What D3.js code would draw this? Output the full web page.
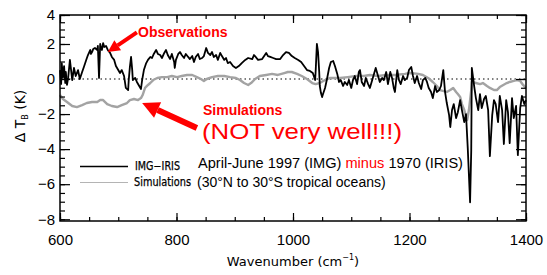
<!DOCTYPE html>
<html lang="en">
<head>
<meta charset="UTF-8">
<title>IMG minus IRIS</title>
<script src="https://d3js.org/d3.v7.min.js"></script>
<style>
  body { margin: 0; background: #fff; }
  svg { display: block; font-family: "Liberation Sans", Arial, sans-serif; }
  .tick text { font-size: 15px; fill: #000; }
  .tick line { stroke: #000; stroke-width: 1.2; }
</style>
</head>
<body>
<svg width="547" height="275" id="grafico"></svg>
<script>
// observed spectrum difference (IMG 1997 minus IRIS 1970), wavenumber in cm-1, dT in K
var obsWn = [600,602,603,605,607,609,610,612,614,617,621,624,627,631,634,638,641,645,648,652,653,655,657,660,664,665,667,669,670,672,674,676,679,682,686,689,693,696,700,703,706,710,713,717,718,720,722,724,725,729,732,736,739,741,744,748,751,755,758,761,765,768,772,775,779,782,785,789,792,796,797,799,803,806,809,813,816,820,823,827,830,833,837,840,844,847,851,854,858,861,864,868,871,875,878,882,885,888,892,897,902,907,912,918,923,930,933,936,940,947,954,957,961,966,971,978,983,988,993,998,1003,1009,1014,1019,1024,1029,1034,1038,1039,1041,1043,1045,1046,1048,1050,1051,1055,1058,1062,1065,1069,1072,1076,1079,1082,1086,1089,1093,1096,1100,1103,1106,1110,1113,1115,1118,1122,1125,1129,1132,1136,1139,1142,1146,1149,1153,1156,1160,1163,1167,1170,1173,1175,1179,1182,1185,1189,1192,1196,1199,1203,1206,1209,1213,1216,1220,1223,1227,1230,1233,1237,1240,1244,1247,1251,1254,1258,1261,1264,1268,1270,1273,1276,1280,1283,1287,1290,1294,1297,1300,1304,1306,1307,1311,1314,1318,1321,1324,1328,1331,1335,1338,1342,1345,1348,1352,1355,1359,1362,1366,1369,1372,1376,1379,1383,1386,1390,1393,1397,1400];
var obsDT = [0.51,-0.29,0.91,0.06,0.74,-0.23,0.40,-0.34,0.06,1.09,-0.06,0.63,0.17,0.51,0.00,0.40,0.69,1.09,1.37,1.66,1.43,1.54,1.71,1.77,1.66,1.89,0.06,2.00,1.83,1.66,2.06,1.83,1.89,1.66,1.49,1.26,1.09,0.74,0.51,0.34,0.51,0.17,-0.51,-0.63,-0.06,0.69,1.26,0.51,-0.06,0.06,-0.17,-0.40,-0.57,-0.06,0.51,0.91,1.09,1.26,1.20,1.43,1.66,1.43,1.37,1.20,1.49,1.66,1.37,1.14,1.43,0.97,0.63,1.09,1.43,1.54,1.37,1.20,1.43,1.26,1.14,1.31,0.97,1.26,1.43,1.14,1.20,1.31,1.77,1.49,1.37,1.54,1.26,1.37,1.09,1.49,1.31,1.09,1.20,0.91,0.97,0.74,0.63,0.74,0.91,1.09,1.20,1.14,1.37,1.26,1.09,1.14,1.49,1.31,1.26,1.20,1.14,1.14,1.37,1.54,1.49,1.31,1.20,1.09,0.97,0.74,0.51,0.46,0.34,-0.06,0.51,2.00,1.54,0.40,-0.40,-0.80,-1.03,-0.91,-0.51,-0.06,0.63,0.97,1.03,0.74,0.29,-0.17,-0.06,-0.40,-0.17,-0.34,-0.06,-0.51,-0.06,0.17,-0.29,0.40,0.51,-0.17,-0.40,0.06,-0.29,-0.51,-0.06,0.29,0.63,0.17,-0.17,0.06,-0.06,0.40,-0.29,0.40,0.06,-0.51,-0.74,0.51,-0.06,-0.29,0.17,-0.06,0.06,0.51,0.69,0.17,-0.23,0.17,-0.23,-0.57,-0.06,0.06,-0.17,-0.51,-0.74,-1.09,-0.40,-0.74,-0.63,-0.40,0.51,-0.74,-1.37,-2.06,-2.74,-1.77,-1.43,-2.23,-1.89,-1.20,-1.77,-2.46,-2.00,-3.94,-7.03,-4.06,0.63,-0.40,-1.09,-1.77,-0.86,-1.66,-1.14,-0.97,-1.77,-4.40,-2.06,-1.20,-1.43,-2.46,-0.97,-1.77,-3.71,-1.20,-1.89,-3.66,-1.09,-2.23,-1.54,-4.34,-1.66,-0.97,-1.43,-1.20];

// simulated difference
var simWn = [600,605,612,621,629,638,646,655,664,669,674,681,689,698,706,715,720,727,734,739,742,746,751,755,760,767,775,784,792,801,809,818,827,835,842,847,852,861,871,882,892,902,909,916,923,928,935,943,954,964,974,985,991,998,1007,1015,1024,1033,1039,1046,1055,1064,1072,1081,1094,1108,1122,1132,1146,1160,1175,1192,1201,1215,1223,1232,1240,1247,1252,1259,1264,1270,1275,1280,1283,1287,1290,1294,1297,1299,1302,1306,1307,1314,1321,1326,1333,1338,1345,1350,1355,1361,1367,1372,1379,1384,1390,1395,1400];
var simDT = [-0.91,-1.14,-1.31,-1.54,-1.60,-1.49,-1.37,-1.31,-1.31,-1.20,-1.20,-1.43,-1.54,-1.60,-1.49,-1.37,-1.20,-1.14,-1.20,-1.09,-0.91,-0.51,-0.34,-0.23,-0.06,0.06,0.11,0.11,0.17,0.11,0.17,0.23,0.23,0.11,0.00,-0.11,0.00,0.11,0.17,0.17,0.11,0.06,-0.06,-0.23,-0.34,-0.23,0.00,0.17,0.23,0.29,0.23,0.34,0.40,0.40,0.29,0.17,0.00,-0.23,-0.29,-0.23,-0.06,0.06,0.06,0.06,0.11,0.17,0.17,0.23,0.17,0.23,0.23,0.29,0.34,0.29,0.23,0.06,-0.17,-0.40,-0.63,-0.69,-0.74,-0.63,-0.51,-0.74,-0.86,-1.03,-1.43,-1.77,-2.11,-2.34,-1.77,-0.63,-0.17,-0.23,-0.29,-0.23,-0.40,-0.51,-0.63,-0.63,-0.46,-0.34,-0.23,-0.17,-0.11,-0.06,-0.11,-0.34,-0.51];

var xTicks = [600, 800, 1000, 1200, 1400];
var yTicks = [-8, -6, -4, -2, 0, 2, 4];

var svg = d3.select("svg");

var x = d3.scaleLinear().domain([600, 1400]).range([60, 526]);
var y = d3.scaleLinear().domain([-8.1, 0, 2, 4]).range([221, 79, 44, 15]);

svg.append("rect").attr("width", 547).attr("height", 275).attr("fill", "#fff");

// zero line
svg.append("line")
    .attr("x1", x(600)).attr("x2", x(1400))
    .attr("y1", y(0)).attr("y2", y(0))
    .attr("stroke", "#000").attr("stroke-width", 1.2)
    .attr("stroke-dasharray", "1.5,3");

var line = d3.line()
    .x(function (d) { return x(d[0]); })
    .y(function (d) { return y(d[1]); });

svg.append("path")
    .datum(d3.zip(simWn, simDT))
    .attr("d", line)
    .attr("fill", "none").attr("stroke", "#a3a3a3").attr("stroke-width", 2.4)
    .attr("stroke-linejoin", "round");

svg.append("path")
    .datum(d3.zip(obsWn, obsDT))
    .attr("d", line)
    .attr("fill", "none").attr("stroke", "#000").attr("stroke-width", 1.8)
    .attr("stroke-linejoin", "round");

// axes, ticks pointing inward on every side
function noDomain(g) { g.select(".domain").remove(); }

svg.append("g").attr("transform", "translate(0,221)")
    .call(d3.axisBottom(x).tickValues(d3.range(600, 1401, 50)).tickSize(-4).tickFormat("")).call(noDomain);
svg.append("g").attr("transform", "translate(0,221)")
    .call(d3.axisBottom(x).tickValues(xTicks).tickSize(-8).tickPadding(13).tickFormat(d3.format("d"))).call(noDomain);
svg.append("g").attr("transform", "translate(0,15)")
    .call(d3.axisTop(x).tickValues(d3.range(600, 1401, 50)).tickSize(-4).tickFormat("")).call(noDomain);
svg.append("g").attr("transform", "translate(0,15)")
    .call(d3.axisTop(x).tickValues(xTicks).tickSize(-8).tickFormat("")).call(noDomain);

svg.append("g").attr("transform", "translate(60,0)")
    .call(d3.axisLeft(y).tickValues(d3.range(-8, 4.01, 0.5)).tickSize(-5).tickFormat("")).call(noDomain);
svg.append("g").attr("transform", "translate(60,0)")
    .call(d3.axisLeft(y).tickValues(yTicks).tickSize(-10).tickPadding(5).tickFormat(d3.format("d"))).call(noDomain);
svg.append("g").attr("transform", "translate(526,0)")
    .call(d3.axisRight(y).tickValues(d3.range(-8, 4.01, 0.5)).tickSize(-5).tickFormat("")).call(noDomain);
svg.append("g").attr("transform", "translate(526,0)")
    .call(d3.axisRight(y).tickValues(yTicks).tickSize(-10).tickFormat("")).call(noDomain);

svg.selectAll("g").attr("font-family", null).attr("font-size", null);

// frame
svg.append("rect")
    .attr("x", 60).attr("y", 15).attr("width", 466).attr("height", 206)
    .attr("fill", "none").attr("stroke", "#000").attr("stroke-width", 1.5);

// axis titles
var xt = svg.append("text")
    .attr("x", 293).attr("y", 266)
    .attr("text-anchor", "middle")
    .attr("font-family", "DejaVu Sans")
    .attr("font-size", 13)
    .text("Wavenumber (cm");
xt.append("tspan").attr("font-size", 8).attr("dy", -6).text("−1");
xt.append("tspan").attr("dy", 6).text(")");

var yt = svg.append("text")
    .attr("transform", "translate(25,116) rotate(-90)")
    .attr("text-anchor", "middle")
    .attr("font-family", "DejaVu Sans")
    .attr("font-size", 14)
    .text("Δ  T");
yt.append("tspan").attr("font-size", 8).attr("dy", 3).text("B");
yt.append("tspan").attr("dy", -3).text("  (K)");

// legend
svg.append("line").attr("x1", 80).attr("x2", 128).attr("y1", 166.5).attr("y2", 166.5)
    .attr("stroke", "#000").attr("stroke-width", 1.4);
svg.append("line").attr("x1", 80).attr("x2", 128).attr("y1", 182.5).attr("y2", 182.5)
    .attr("stroke", "#b4b4b4").attr("stroke-width", 1);
svg.append("text").attr("x", 135).attr("y", 170)
    .attr("font-family", "DejaVu Sans").attr("font-size", 11.5)
    .attr("stroke", "#000").attr("stroke-width", 0.25)
    .attr("textLength", 45).attr("lengthAdjust", "spacingAndGlyphs")
    .text("IMG−IRIS");
svg.append("text").attr("x", 134).attr("y", 186)
    .attr("font-family", "DejaVu Sans").attr("font-size", 11.5)
    .attr("stroke", "#000").attr("stroke-width", 0.25)
    .attr("textLength", 57).attr("lengthAdjust", "spacingAndGlyphs")
    .text("Simulations");

var d1 = svg.append("text").attr("x", 198).attr("y", 168).attr("font-size", 14)
    .attr("textLength", 265).attr("lengthAdjust", "spacingAndGlyphs");
d1.append("tspan").text("April-June 1997 (IMG) ");
d1.append("tspan").attr("fill", "#f00").text("minus");
d1.append("tspan").text(" 1970 (IRIS)");
svg.append("text").attr("x", 197).attr("y", 187).attr("font-size", 14)
    .text("(30°N to 30°S tropical oceans)");

// annotations
svg.append("text").attr("x", 138).attr("y", 37)
    .attr("font-size", 14).attr("font-weight", "bold").attr("fill", "#f00")
    .text("Observations");
svg.append("text").attr("x", 203).attr("y", 115)
    .attr("font-size", 14).attr("font-weight", "bold").attr("fill", "#f00")
    .text("Simulations");
svg.append("text").attr("x", 202).attr("y", 139)
    .attr("font-size", 22).attr("fill", "#f00")
    .attr("textLength", 200).attr("lengthAdjust", "spacingAndGlyphs")
    .text("(NOT very well!!!)");

function arrow(from, to, w, headLen, headW) {
    var x0 = x(from[0]), y0 = y(from[1]), x1 = x(to[0]), y1 = y(to[1]);
    var a = Math.atan2(y1 - y0, x1 - x0);
    var bx = x1 - headLen * Math.cos(a), by = y1 - headLen * Math.sin(a);
    svg.append("line").attr("x1", x0).attr("y1", y0).attr("x2", bx).attr("y2", by)
        .attr("stroke", "#f00").attr("stroke-width", w);
    var px = -Math.sin(a) * headW / 2, py = Math.cos(a) * headW / 2;
    svg.append("path")
        .attr("d", "M" + x1 + "," + y1 + "L" + (bx + px) + "," + (by + py) + "L" + (bx - px) + "," + (by - py) + "Z")
        .attr("fill", "#f00");
}
arrow([732, 2.8], [682, 1.54], 4, 12, 12);
arrow([835, -2.8], [741, -1.37], 6, 17, 17);
</script>
</body>
</html>
